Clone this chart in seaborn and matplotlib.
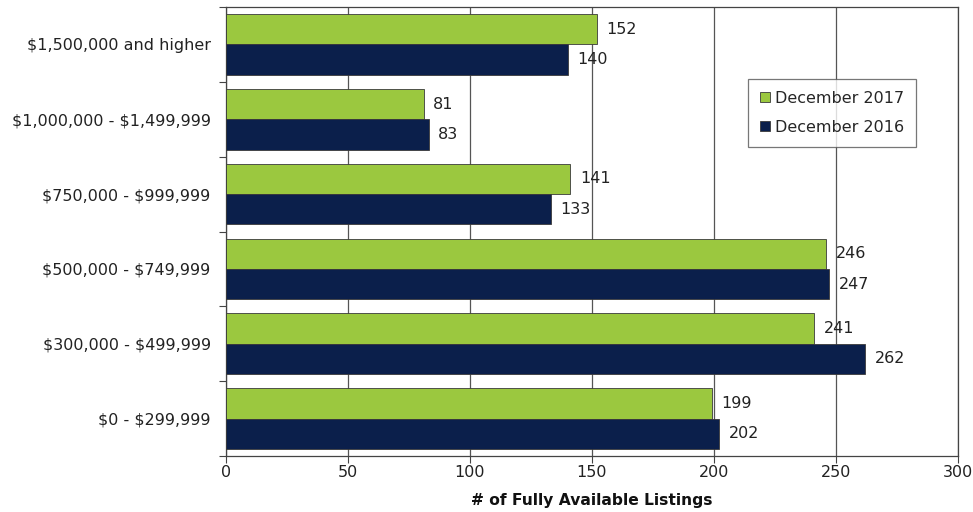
import matplotlib
matplotlib.use("Agg")
import matplotlib.pyplot as plt
import seaborn as sns
import pandas as pd
from matplotlib.patches import Patch

# Listings by price band, two Decembers compared
price_bands = [
    "$1,500,000 and higher",
    "$1,000,000 - $1,499,999",
    "$750,000 - $999,999",
    "$500,000 - $749,999",
    "$300,000 - $499,999",
    "$0 - $299,999",
]
dec_2017 = [152, 81, 141, 246, 241, 199]
dec_2016 = [140, 83, 133, 247, 262, 202]
series_names = ["December 2017", "December 2016"]
x_ticks = [0, 50, 100, 150, 200, 250, 300]

green = "#9BC83F"
navy = "#0B1F4B"
text_color = "#222222"
fs = 11.5

df = pd.DataFrame({
    "band": price_bands * 2,
    "count": dec_2017 + dec_2016,
    "period": [series_names[0]] * len(price_bands) + [series_names[1]] * len(price_bands),
})

sns.set_style("white")
plt.rcParams["font.family"] = ["DejaVu Sans"]
plt.rcParams["text.parse_math"] = False

fig = plt.figure(figsize=(9.73, 5.12), dpi=100)
ax = fig.add_axes([226 / 973, 1 - 456 / 512, 732 / 973, 449 / 512])

sns.barplot(
    data=df, x="count", y="band", hue="period",
    order=price_bands, hue_order=series_names,
    palette=[green, navy], width=0.81, orient="h",
    edgecolor="#3a3a3a", linewidth=0.6, saturation=1,
    legend=False, ax=ax, zorder=3,
)

ax.set_xlim(0, 300)
ax.set_ylim(len(price_bands) - 0.5, -0.5)
ax.set_xticks(x_ticks)
ax.set_xticklabels([str(t) for t in x_ticks], fontsize=fs, color=text_color)
ax.tick_params(axis="y", which="major", length=0, pad=11, labelsize=fs, labelcolor=text_color)
ax.set_yticks([i - 0.5 for i in range(len(price_bands) + 1)], minor=True)
ax.tick_params(axis="y", which="minor", length=5, width=0.8, color="#444444", direction="out", left=True)
ax.tick_params(axis="x", which="major", length=5, width=0.8, color="#444444", direction="out", bottom=True, pad=1.5)

ax.set_ylabel("")
ax.set_xlabel("# of Fully Available Listings", fontsize=11.2, fontweight="bold", labelpad=9, color="#111111")

ax.grid(axis="x", color="#555555", linewidth=0.9, zorder=0)
ax.grid(axis="y", visible=False)
for s in ax.spines.values():
    s.set_visible(True)
    s.set_color("#444444")
    s.set_linewidth(0.9)

# Value labels at the bar ends
for container in ax.containers:
    ax.bar_label(container, labels=[f"{int(v)}" for v in container.datavalues],
                 padding=7, fontsize=fs, color=text_color)

handles = [Patch(facecolor=green, edgecolor="#3a3a3a", linewidth=0.6),
           Patch(facecolor=navy, edgecolor="#3a3a3a", linewidth=0.6)]
leg = ax.legend(handles, series_names, loc="upper left",
                bbox_to_anchor=((748 - 226) / 732, (456 - 79) / 449),
                frameon=True, fancybox=False, fontsize=fs,
                handlelength=0.6, handleheight=0.6, handletextpad=0.35,
                borderpad=0.75, labelspacing=0.85, borderaxespad=0)
leg.get_frame().set_edgecolor("#555555")
leg.get_frame().set_linewidth(0.9)

fig.savefig("out.png", dpi=100)
